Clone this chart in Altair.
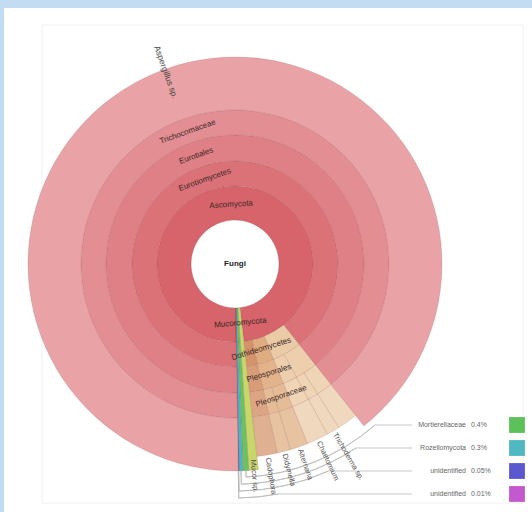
import math
import altair as alt
import pandas as pd

# ---------------- data ----------------
START_DEG = 179.1  # where the first wedge starts (clockwise from 12 o'clock)

node_id = ["root", "asco", "mucoro", "mortier", "rozel", "unid1", "unid2",
           "eurotio", "sordario", "dothideo", "leotio",
           "eurotiales", "hypocreales", "sordariales", "pleosporales", "helotiales",
           "tricho", "nectri", "hypocrea", "chaetomi", "pleospora", "didymella", "helotia",
           "asperg", "fusar", "trichod", "chaet", "altern", "didym", "cadoph"]
node_label = ["Fungi", "Ascomycota", "Mucoromycota", "Mortierellomycota", "Rozellomycota",
              "unidentified", "unidentified",
              "Eurotiomycetes", "Sordariomycetes", "Dothideomycetes", "Leotiomycetes",
              "Eurotiales", "Hypocreales", "Sordariales", "Pleosporales", "Helotiales",
              "Trichocomaceae", "Nectriaceae", "Hypocreaceae", "Chaetomiaceae",
              "Pleosporaceae", "Didymellaceae", "Helotiaceae",
              "Aspergillus sp.", "Fusarium", "Trichoderma sp.", "Chaetomium",
              "Alternaria", "Didymella", "Cadophora"]
node_parent = ["", "root", "root", "root", "root", "root", "root",
               "asco", "asco", "asco", "asco",
               "eurotio", "sordario", "sordario", "dothideo", "leotio",
               "eurotiales", "hypocreales", "hypocreales", "sordariales",
               "pleosporales", "pleosporales", "helotiales",
               "tricho", "nectri", "hypocrea", "chaetomi", "pleospora", "didymella", "helotia"]
node_pct = [100.0, 98.44, 0.75, 0.45, 0.30, 0.05, 0.01,
            89.55, 4.60, 2.60, 1.69,
            89.55, 2.80, 1.80, 2.60, 1.69,
            89.55, 1.70, 1.10, 1.80, 1.50, 1.10, 1.69,
            89.55, 1.70, 1.10, 1.80, 1.50, 1.10, 1.69]
# outer depth of wedges that do not stop at the next ring
outer_depth = {"mucoro": 6, "mortier": 6, "rozel": 6, "unid1": 6, "unid2": 6,
               "asperg": 6, "fusar": 5.75, "trichod": 5.75, "chaet": 5.75,
               "altern": 5.75, "didym": 5.75, "cadoph": 5.75}

# colours
pink_by_level = ["#ffffff", "#d6646a", "#da7278", "#de8085", "#e28e92", "#e9a3a6"]
base_color = {"mucoro": "#c8d66c", "mortier": "#6cc25e", "rozel": "#4fb3c2",
              "unid1": "#5a5fd2", "unid2": "#c45ad0",
              "sordario": "#ebcaa6", "dothideo": "#e0ad80", "leotio": "#d4936a"}

# labels
tangential_ids = ["asco", "eurotio", "eurotiales", "tricho", "mucoro",
                  "dothideo", "pleosporales", "pleospora"]
radial_out_ids = ["trichod", "chaet", "altern", "didym", "cadoph", "mucoro"]
radial_out_text = {"mucoro": "Mucor sp."}

# key (items too small to label in the plot)
key_ids = ["mortier", "rozel", "unid1", "unid2"]
key_names = ["Mortierellaceae", "Rozellomycota", "unidentified", "unidentified"]
key_pcts = ["0.4%", "0.3%", "0.05%", "0.01%"]
key_colors = ["#5cc15a", "#4fb8c0", "#5b58cf", "#c459cf"]
key_line_depth = [6.12, 6.25, 6.38, 6.51]


def mix_white(hex_color, f):
    r, g, b = (int(hex_color[i:i + 2], 16) for i in (1, 3, 5))
    r, g, b = (round(c + (255 - c) * f) for c in (r, g, b))
    return "#%02x%02x%02x" % (r, g, b)


# ------------- build hierarchy table -------------
cursor, level, top = {}, {}, {}
rows = []
for nid, lab, par, pct in zip(node_id, node_label, node_parent, node_pct):
    if par == "":
        t0, lv, anc = START_DEG, 0, nid
    else:
        t0, lv = cursor[par], level[par] + 1
        if lv == 1 or (lv == 2 and par == "asco"):
            anc = nid
        else:
            anc = top[par]
    t1 = t0 + pct * 3.6
    if par:
        cursor[par] = t1
    cursor[nid] = t0
    level[nid] = lv
    top[nid] = anc
    if lv == 0:
        col = "#ffffff"
    elif anc in base_color:
        base_lv = 1 if anc in ("mucoro", "mortier", "rozel", "unid1", "unid2") else 2
        col = mix_white(base_color[anc], 0.09 * (lv - base_lv))
    else:
        col = pink_by_level[min(lv, 5)]
    rows.append(dict(id=nid, label=lab, t0=t0, t1=t1, tm=(t0 + t1) / 2,
                     r0=lv, r1=outer_depth.get(nid, lv + 1), color=col))
arcs = pd.DataFrame(rows)


def norm(a):
    return (a + 180) % 360 - 180


tang = arcs[arcs["id"].isin(tangential_ids)].copy()
tang["rl"] = tang["r0"] + 0.45
tang["ang"] = tang["tm"].apply(lambda t: (norm(t) if abs(norm(t)) <= 90 else norm(t) - 180) % 360)

center = arcs[arcs["id"] == "root"].copy()

rad_r = arcs[arcs["id"].isin(radial_out_ids)].copy()
rad_r["text"] = [radial_out_text.get(i, l) for i, l in zip(rad_r["id"], rad_r["label"])]
rad_r["rl"] = 5.8
rad_r["ang"] = (rad_r["tm"] % 360 - 90) % 360

rad_l = arcs[arcs["id"] == "asperg"].copy()
rad_l["rl"] = 5.42
rad_l["ang"] = (rad_l["tm"] % 360 + 90) % 360

# ------------- geometry -------------
CX, CY = 231, 256
R_LEVELS = [0, 1, 2, 3, 4, 5, 6, 7]
R_PIX = [0, 44, 78, 103, 129, 154, 207, 260]
KEY_Y = [417, 440, 463, 486]
tscale = alt.Scale(domain=[0, 360], range=[0, 2 * math.pi])
rscale = alt.Scale(type="linear", domain=R_LEVELS, range=R_PIX)
kscale = alt.Scale(type="point", domain=[0, 1, 2, 3], range=[KEY_Y[0], KEY_Y[-1]], padding=0)
FONT = "Liberation Sans"

# key + connector lines (radial stub, arc around the chart, horizontal run)
key = pd.DataFrame({"idx": list(range(len(key_names))), "name": key_names,
                    "pct": key_pcts, "color": key_colors, "lv": key_line_depth})
key["tw"] = [float(arcs.loc[arcs["id"] == k, "tm"].iloc[0]) % 360 for k in key_ids]
key["r6"] = 6.0
rpx = [R_PIX[6] + (lv - 6) * (R_PIX[7] - R_PIX[6]) for lv in key["lv"]]
key["tk"] = [math.degrees(math.acos((CY - y) / r)) for y, r in zip(KEY_Y, rpx)]
key["xs"] = [CX + r * math.sin(math.radians(t)) for r, t in zip(rpx, key["tk"])]

LINE = "#b9b9b9"

white_bg = alt.Chart(pd.DataFrame({"a": [0]})).mark_rect(fill="white").encode(
    x=alt.value(0), x2=alt.value(528), y=alt.value(0), y2=alt.value(504))
blue_top = alt.Chart(pd.DataFrame({"a": [0]})).mark_rect(fill="#c3dcf1").encode(
    x=alt.value(-4), x2=alt.value(528), y=alt.value(-8), y2=alt.value(0))
blue_left = alt.Chart(pd.DataFrame({"a": [0]})).mark_rect(fill="#c3dcf1").encode(
    x=alt.value(-4), x2=alt.value(0), y=alt.value(-8), y2=alt.value(504))
frame = alt.Chart(pd.DataFrame({"a": [0]})).mark_rect(
    fill="transparent", stroke="#f0f0f0", strokeWidth=1).encode(
    x=alt.value(38), x2=alt.value(519), y=alt.value(17), y2=alt.value(495))

wedges = alt.Chart(arcs).mark_arc(x=CX, y=CY, stroke="#6a2a2a", strokeOpacity=0.2,
                                  strokeWidth=0.7).encode(
    theta=alt.Theta("t0:Q", scale=tscale),
    theta2="t1:Q",
    radius=alt.Radius("r1:Q", scale=rscale),
    radius2="r0:Q",
    color=alt.Color("color:N", scale=None),
)

stub = alt.Chart(key).mark_arc(x=CX, y=CY, fillOpacity=0, stroke=LINE, strokeWidth=0.8).encode(
    theta=alt.Theta("tw:Q", scale=tscale), theta2="tw:Q",
    radius=alt.Radius("lv:Q", scale=rscale), radius2="r6:Q")
curve = alt.Chart(key).mark_arc(x=CX, y=CY, fillOpacity=0, stroke=LINE, strokeWidth=0.8).encode(
    theta=alt.Theta("tk:Q", scale=tscale), theta2="tw:Q",
    radius=alt.Radius("lv:Q", scale=rscale), radius2="lv:Q")
run = alt.Chart(key).mark_rule(stroke=LINE, strokeWidth=0.8).encode(
    x=alt.X("xs:Q", scale=None), x2=alt.value(408),
    y=alt.Y("idx:O", scale=kscale, axis=None))

tang_text = alt.Chart(tang).mark_text(x=CX, y=CY, font=FONT, fontSize=8, color="#3a2626",
                                      baseline="middle", align="center").encode(
    theta=alt.Theta("tm:Q", scale=tscale),
    radius=alt.Radius("rl:Q", scale=rscale),
    angle=alt.Angle("ang:Q", scale=None),
    text="label:N",
)

center_text = alt.Chart(center).mark_text(x=CX, y=CY, font=FONT, fontSize=8, fontWeight="bold",
                                          color="#222222").encode(text="label:N")

rad_r_text = alt.Chart(rad_r).mark_text(x=CX, y=CY, font=FONT, fontSize=7.5, color="#505050",
                                        baseline="middle", align="left").encode(
    theta=alt.Theta("tm:Q", scale=tscale),
    radius=alt.Radius("rl:Q", scale=rscale),
    angle=alt.Angle("ang:Q", scale=None),
    text="text:N",
)

rad_l_text = alt.Chart(rad_l).mark_text(x=CX, y=CY, font=FONT, fontSize=8.5, color="#444444",
                                        baseline="middle", align="right").encode(
    theta=alt.Theta("tm:Q", scale=tscale),
    radius=alt.Radius("rl:Q", scale=rscale),
    angle=alt.Angle("ang:Q", scale=None),
    text="label:N",
)

key_sq = alt.Chart(key).mark_square(size=250, opacity=1).encode(
    x=alt.value(513),
    y=alt.Y("idx:O", scale=kscale, axis=None),
    color=alt.Color("color:N", scale=None),
)
key_name = alt.Chart(key).mark_text(font=FONT, fontSize=7, color="#666666", align="right",
                                    baseline="middle").encode(
    x=alt.value(462), y=alt.Y("idx:O", scale=kscale, axis=None), text="name:N")
key_pct = alt.Chart(key).mark_text(font=FONT, fontSize=7, color="#666666", align="left",
                                   baseline="middle").encode(
    x=alt.value(467), y=alt.Y("idx:O", scale=kscale, axis=None), text="pct:N")

chart = alt.layer(white_bg, blue_top, blue_left, frame, wedges, stub, curve, run,
                  tang_text, center_text, rad_r_text, rad_l_text,
                  key_sq, key_name, key_pct).properties(
    width=528, height=504, autosize="none", background="white",
    padding={"left": 4, "top": 8, "right": 0, "bottom": 0},
).configure_view(strokeWidth=0)

chart.save("out.html", embed_options={"renderer": "svg", "actions": False})
